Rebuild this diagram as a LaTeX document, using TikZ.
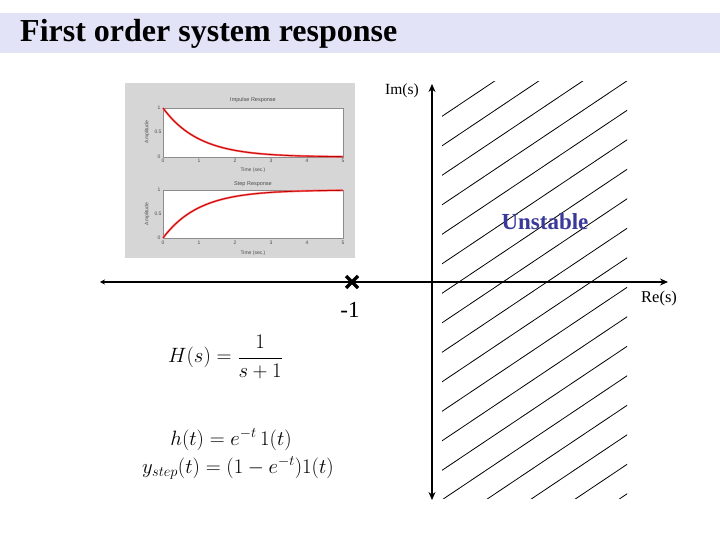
\documentclass[tikz,border=0pt]{standalone}
\usepackage{fontspec}
\setmainfont{Liberation Serif}
\newfontfamily\plotfont{Liberation Sans}
\usetikzlibrary{arrows.meta}
\definecolor{band}{HTML}{E3E3F8}
\definecolor{plotbg}{HTML}{D6D6D6}
\definecolor{unst}{HTML}{3A3A9A}
\tikzset{
  axisline/.style={line width=2.8pt},
  hatch/.style={line width=0.8pt},
  tick/.style={font=\plotfont\fontsize{5}{6}\selectfont, text=black!70, inner sep=0pt},
  plotbox/.style={fill=white, draw=black!45, line width=0.4pt},
  resp/.style={red!85!black, line width=1.3pt},
  eq/.style={inner sep=0pt, font=\fontsize{19.5}{22}\selectfont},
}
\begin{document}
\begin{tikzpicture}[x=1pt,y=-1pt]
\useasboundingbox (0,0) rectangle (720,540);
% title band
\fill[band] (0,13) rectangle (720,53);
\node[anchor=base west, inner sep=0pt, font=\fontsize{32}{34}\selectfont\bfseries] (title) at (20,42) {First order system response};

% hatching
\begin{scope}
\clip (442,82) rectangle (627,498);
\foreach \k in {0,...,22}{
  \draw[hatch] (438,{119+29.5*\k}) -- (660,{119+29.5*\k-0.67*222});
}
\end{scope}

% axes
\coordinate (xl) at (100,282);
\coordinate (xr) at (668,282);
\coordinate (yt) at (432,84);
\coordinate (yb) at (432,500);
\draw[axisline, {Stealth[length=5pt,width=5pt]}-{Stealth[length=8pt,width=7pt]}] (xl) -- (xr);
\draw[axisline, {Stealth[length=8pt,width=7pt]}-{Stealth[length=8pt,width=7pt]}] (yb) -- (yt);
\node[anchor=east, inner sep=0pt, font=\fontsize{15.5}{17}\selectfont] (im) at (419,91) {Im(s)};
\node[anchor=west, inner sep=0pt, font=\fontsize{16.5}{18}\selectfont] (re) at (641,299) {Re(s)};
\coordinate (pole) at (352,282);
\draw[line width=3.2pt] ([shift={(-6,-6)}]pole) -- ([shift={(6,6)}]pole)
                        ([shift={(-6,6)}]pole) -- ([shift={(6,-6)}]pole);
\node[font=\fontsize{23}{25}\selectfont, inner sep=0pt] (m1) at (350,310) {-1};
\node[font=\fontsize{23}{26}\selectfont\bfseries, text=unst, inner sep=0pt] (unstable) at (545,222) {Unstable};

% response plots picture
\fill[plotbg] (125,83) rectangle (355,258);
\draw[plotbox] (163,108) rectangle (343,157);
\draw[plotbox] (163,190) rectangle (343,238);
\node[tick, font=\plotfont\fontsize{5.5}{6}\selectfont] (t1) at (253,100) {Impulse Response};
\node[tick, font=\plotfont\fontsize{5.5}{6}\selectfont] (t2) at (253,184) {Step Response};
\foreach \i in {0,...,5}{
  \node[tick] at ({163+36*\i},161) {\i};
  \node[tick] at ({163+36*\i},243) {\i};
}
\node[tick] at (159,108) {1};
\node[tick] at (158,132) {0.5};
\node[tick] at (159,157) {0};
\node[tick] at (159,190) {1};
\node[tick] at (158,214) {0.5};
\node[tick] at (159,238) {0};
\node[tick] (xl1) at (253,170) {Time (sec.)};
\node[tick] (xl2) at (253,253) {Time (sec.)};
\node[tick, rotate=90] (yl1) at (147,132) {Amplitude};
\node[tick, rotate=90] (yl2) at (147,214) {Amplitude};
\draw[resp, red!60, line width=2pt] plot[domain=0:5, samples=60] ({163+36*\x},{157-49*exp(-\x)});
\draw[red!75!black, line width=0.8pt] plot[domain=0:5, samples=60] ({163+36*\x},{157-49*exp(-\x)});
\draw[resp, red!60, line width=2pt] plot[domain=0:5, samples=60] ({163+36*\x},{238-48*(1-exp(-\x))});
\draw[red!75!black, line width=0.8pt] plot[domain=0:5, samples=60] ({163+36*\x},{238-48*(1-exp(-\x))});

% formulas
\node[eq, anchor=west] (H) at (168,357) {$H(s)=\displaystyle\frac{1}{s+1}$};
\node[eq, anchor=base] (h) at (231,445) {$h(t)=e^{-t}\,1(t)$};
\node[eq, anchor=base] (y) at (238,473) {$y_{step}(t)=(1-e^{-t})1(t)$};
\end{tikzpicture}
\end{document}
